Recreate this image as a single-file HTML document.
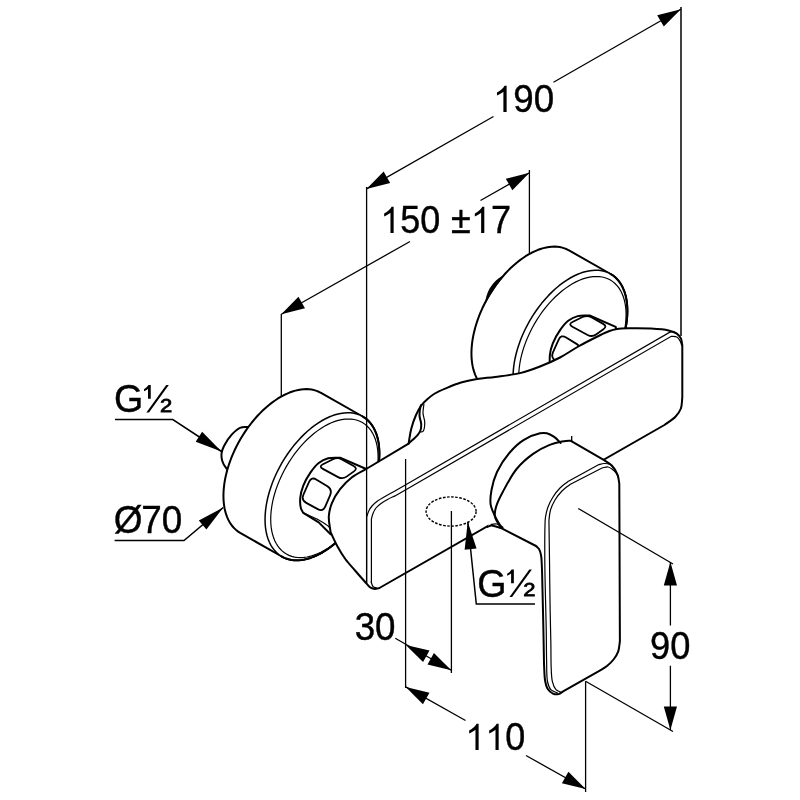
<!DOCTYPE html>
<html><head><meta charset="utf-8"><style>
html,body{margin:0;padding:0;background:#fff;width:800px;height:800px;overflow:hidden}
svg{display:block;will-change:transform}
text{font-family:"Liberation Sans",sans-serif;fill:#000;font-size:38px;stroke:#000;stroke-width:0.4}
.g1{fill:#000;stroke:none}
.d{stroke:#000;stroke-width:1.3;fill:none}
.o{stroke:#000;stroke-width:2.0;fill:#fff;stroke-linejoin:round;stroke-linecap:round}
.on{stroke:#000;stroke-width:2.0;fill:none;stroke-linejoin:round;stroke-linecap:round}
.i{stroke:#000;stroke-width:1.2;fill:none;stroke-linecap:round}
.w{fill:#fff;stroke:none}
.a{fill:#000;stroke:none}
.ds{stroke:#000;stroke-width:1.4;fill:none;stroke-dasharray:2.6 1.5}
</style></head><body>
<svg width="800" height="800" viewBox="0 0 800 800">
<path class="d" d="M281.3 314 L281.3 396"/>
<path class="d" d="M529.4 170 L529.4 253"/>
<path class="d" d="M681 7 L681 336" style="stroke-width:1.5"/>
<path class="o" d="M248 427 C245.33 427.27 242.53 426.76 240 427.8 C237.12 428.99 234.4 431.67 231.9 434.4 C229 437.56 225.74 442.48 224 446 C222.72 448.59 221.9 450.74 221.6 453.2 C221.3 455.64 221.48 458.27 222.2 460.7 C222.97 463.28 224.53 466.27 226.3 468.2 C227.88 469.93 230.1 470.73 232 472 L260 470 Z"/>
<path class="o" d="M240.18 532.9 L238.12 531.59 L236.18 530.08 L234.36 528.39 L232.66 526.52 L231.1 524.48 L229.67 522.27 L228.38 519.89 L227.24 517.36 L226.24 514.68 L225.39 511.86 L224.69 508.9 L224.15 505.82 L223.76 502.62 L223.52 499.31 L223.44 495.9 L223.52 492.4 L223.76 488.82 L224.15 485.17 L224.69 481.46 L225.39 477.69 L226.24 473.89 L227.24 470.06 L228.38 466.2 L229.67 462.34 L231.1 458.48 L232.66 454.63 L234.36 450.8 L236.18 447.01 L238.12 443.26 L240.18 439.57 L242.35 435.93 L244.63 432.38 L247 428.9 L249.47 425.52 L252.02 422.24 L254.65 419.08 L257.35 416.03 L260.12 413.11 L262.94 410.33 L265.81 407.69 L268.72 405.2 L271.66 402.87 L274.63 400.71 L277.61 398.72 L280.6 396.9 L283.59 395.26 L286.57 393.81 L289.54 392.55 L292.48 391.48 L295.39 390.61 L298.26 389.93 L301.08 389.46 L303.85 389.18 L306.55 389.11 L309.18 389.24 L311.73 389.57 L314.2 390.11 L316.57 390.84 L318.85 391.77 L321.02 392.9 L362.62 416.5 L364.68 417.81 L366.62 419.32 L368.44 421.01 L370.14 422.88 L371.7 424.92 L373.13 427.13 L374.42 429.51 L375.56 432.04 L376.56 434.72 L377.41 437.54 L378.11 440.5 L378.65 443.58 L379.04 446.78 L379.28 450.09 L379.36 453.5 L379.28 457 L379.04 460.58 L378.65 464.23 L378.11 467.94 L377.41 471.71 L376.56 475.51 L375.56 479.34 L374.42 483.2 L373.13 487.06 L371.7 490.92 L370.14 494.77 L368.44 498.6 L366.62 502.39 L364.68 506.14 L362.62 509.83 L360.45 513.47 L358.17 517.02 L355.8 520.5 L353.33 523.88 L350.78 527.16 L348.15 530.32 L345.45 533.37 L342.68 536.29 L339.86 539.07 L336.99 541.71 L334.08 544.2 L331.14 546.53 L328.17 548.69 L325.19 550.68 L322.2 552.5 L319.21 554.14 L316.23 555.59 L313.26 556.85 L310.32 557.92 L307.41 558.79 L304.54 559.47 L301.72 559.94 L298.95 560.22 L296.25 560.29 L293.62 560.16 L291.07 559.83 L288.6 559.29 L286.23 558.56 L283.95 557.63 L281.78 556.5 Z"/>
<path class="o" d="M379.36 453.5 L379.24 457.89 L378.87 462.4 L378.26 467.01 L377.41 471.71 L376.32 476.47 L375.01 481.27 L373.46 486.09 L371.7 490.92 L369.72 495.73 L367.55 500.5 L365.17 505.21 L362.62 509.83 L359.89 514.36 L357 518.77 L353.96 523.04 L350.78 527.16 L347.48 531.1 L344.07 534.85 L340.57 538.39 L336.99 541.71 L333.35 544.79 L329.66 547.63 L325.94 550.2 L322.2 552.5 L318.46 554.52 L314.74 556.24 L311.05 557.67 L307.41 558.79 L303.83 559.6 L300.33 560.1 L296.92 560.29 L293.62 560.16 L290.44 559.71 L287.4 558.95 L284.51 557.88 L281.78 556.5 L279.23 554.83 L276.85 552.86 L274.68 550.61 L272.7 548.08 L270.94 545.29 L269.39 542.25 L268.08 538.96 L266.99 535.46 L266.14 531.74 L265.53 527.83 L265.16 523.75 L265.04 519.5 L265.16 515.11 L265.53 510.6 L266.14 505.99 L266.99 501.29 L268.08 496.53 L269.39 491.73 L270.94 486.91 L272.7 482.08 L274.68 477.27 L276.85 472.5 L279.23 467.79 L281.78 463.17 L284.51 458.64 L287.4 454.23 L290.44 449.96 L293.62 445.84 L296.92 441.9 L300.33 438.15 L303.83 434.61 L307.41 431.29 L311.05 428.21 L314.74 425.37 L318.46 422.8 L322.2 420.5 L325.94 418.48 L329.66 416.76 L333.35 415.33 L336.99 414.21 L340.57 413.4 L344.07 412.9 L347.48 412.71 L350.78 412.84 L353.96 413.29 L357 414.05 L359.89 415.12 L362.62 416.5 L365.17 418.17 L367.55 420.14 L369.72 422.39 L371.7 424.92 L373.46 427.71 L375.01 430.75 L376.32 434.04 L377.41 437.54 L378.26 441.26 L378.87 445.17 L379.24 449.25 L379.36 453.5 Z" style="stroke-width:1.5"/>
<path class="on" d="M362.62 416.5 L364.68 417.81 L366.62 419.32 L368.44 421.01 L370.14 422.88 L371.7 424.92 L373.13 427.13 L374.42 429.51 L375.56 432.04 L376.56 434.72 L377.41 437.54 L378.11 440.5 L378.65 443.58 L379.04 446.78 L379.28 450.09 L379.36 453.5 L379.28 457 L379.04 460.58 L378.65 464.23 L378.11 467.94 L377.41 471.71 L376.56 475.51 L375.56 479.34 L374.42 483.2 L373.13 487.06 L371.7 490.92 L370.14 494.77 L368.44 498.6 L366.62 502.39 L364.68 506.14 L362.62 509.83 L360.45 513.47 L358.17 517.02 L355.8 520.5 L353.33 523.88 L350.78 527.16 L348.15 530.32 L345.45 533.37 L342.68 536.29 L339.86 539.07 L336.99 541.71 L334.08 544.2 L331.14 546.53 L328.17 548.69 L325.19 550.68 L322.2 552.5 L319.21 554.14 L316.23 555.59 L313.26 556.85 L310.32 557.92 L307.41 558.79 L304.54 559.47 L301.72 559.94 L298.95 560.22 L296.25 560.29 L293.62 560.16 L291.07 559.83 L288.6 559.29 L286.23 558.56 L283.95 557.63 L281.78 556.5"/>
<path class="i" d="M378.09 457.3 L377.98 461.42 L377.63 465.66 L377.06 469.99 L376.26 474.4 L375.24 478.87 L374.01 483.39 L372.56 487.92 L370.9 492.45 L369.04 496.97 L367 501.45 L364.77 505.87 L362.37 510.22 L359.8 514.47 L357.09 518.62 L354.23 522.63 L351.25 526.49 L348.15 530.2 L344.95 533.72 L341.66 537.05 L338.3 540.16 L334.88 543.06 L331.41 545.72 L327.91 548.14 L324.4 550.3 L320.89 552.19 L317.39 553.82 L313.92 555.16 L310.5 556.21 L307.14 556.97 L303.85 557.44 L300.65 557.62 L297.55 557.49 L294.57 557.07 L291.71 556.36 L289 555.35 L286.43 554.06 L284.03 552.49 L281.8 550.64 L279.76 548.52 L277.9 546.15 L276.24 543.52 L274.79 540.67 L273.56 537.58 L272.54 534.29 L271.74 530.8 L271.17 527.13 L270.82 523.29 L270.71 519.3 L270.82 515.18 L271.17 510.94 L271.74 506.61 L272.54 502.2 L273.56 497.73 L274.79 493.21 L276.24 488.68 L277.9 484.15 L279.76 479.63 L281.8 475.15 L284.03 470.73 L286.43 466.38 L289 462.13 L291.71 457.98 L294.57 453.97 L297.55 450.11 L300.65 446.4 L303.85 442.88 L307.14 439.55 L310.5 436.44 L313.92 433.54 L317.39 430.88 L320.89 428.46 L324.4 426.3 L327.91 424.41 L331.41 422.78 L334.88 421.44 L338.3 420.39 L341.66 419.63 L344.95 419.16 L348.15 418.98 L351.25 419.11 L354.23 419.53 L357.09 420.24 L359.8 421.25 L362.37 422.54 L364.77 424.11 L367 425.96 L369.04 428.08 L370.9 430.45 L372.56 433.08 L374.01 435.93 L375.24 439.02 L376.26 442.31 L377.06 445.8 L377.63 449.47 L377.98 453.31 L378.09 457.3 Z"/>
<path class="o" d="M340.1 457.7 C336.13 457.9 331.85 457.35 328.2 458.3 C324.75 459.2 321.56 460.78 318.7 463 C315.57 465.42 312.89 469.01 310.4 472.6 C307.71 476.48 305 481.25 303.3 485.6 C301.75 489.56 300.67 493.61 300.3 497.5 C299.95 501.13 300.15 505.42 300.9 508.2 C301.43 510.15 302.5 511.33 303.3 512.9 L318.7 522.4 L330.6 534.3 L372 500 L366.2 469 Z"/>
<path class="i" d="M303.3 512.9 C308.43 515.27 314.12 517.43 318.7 520 C322.69 522.24 326.91 524.83 329.4 527.2 C331.1 528.81 331.8 530.4 333 532"/>
<path class="on" d="M322.9 468.88 Q318.5 466.5 322.97 464.26 L333.03 459.24 Q337.5 457 341.86 459.45 L353.64 466.05 Q358 468.5 353.92 471.39 L346.58 476.61 Q342.5 479.5 338.1 477.12 Z" style="stroke-width:1.8"/>
<path class="on" d="M309.05 481.98 Q311.5 476.5 316.6 479.66 L327.4 486.34 Q332.5 489.5 330.17 495.03 L325.33 506.47 Q323 512 317.73 509.13 L306.27 502.87 Q301 500 303.45 494.52 Z" style="stroke-width:1.8"/>
<path class="o" d="M488.18 390.4 L486.12 389.09 L484.18 387.58 L482.36 385.89 L480.66 384.02 L479.1 381.98 L477.67 379.77 L476.38 377.39 L475.24 374.86 L474.24 372.18 L473.39 369.36 L472.69 366.4 L472.15 363.32 L471.76 360.12 L471.52 356.81 L471.44 353.4 L471.52 349.9 L471.76 346.32 L472.15 342.67 L472.69 338.96 L473.39 335.19 L474.24 331.39 L475.24 327.56 L476.38 323.7 L477.67 319.84 L479.1 315.98 L480.66 312.13 L482.36 308.3 L484.18 304.51 L486.12 300.76 L488.18 297.07 L490.35 293.43 L492.63 289.88 L495 286.4 L497.47 283.02 L500.02 279.74 L502.65 276.58 L505.35 273.53 L508.12 270.61 L510.94 267.83 L513.81 265.19 L516.72 262.7 L519.66 260.37 L522.63 258.21 L525.61 256.22 L528.6 254.4 L531.59 252.76 L534.57 251.31 L537.54 250.05 L540.48 248.98 L543.39 248.11 L546.26 247.43 L549.08 246.96 L551.85 246.68 L554.55 246.61 L557.18 246.74 L559.73 247.07 L562.2 247.61 L564.57 248.34 L566.85 249.27 L569.02 250.4 L610.62 274 L612.68 275.31 L614.62 276.82 L616.44 278.51 L618.14 280.38 L619.7 282.42 L621.13 284.63 L622.42 287.01 L623.56 289.54 L624.56 292.22 L625.41 295.04 L626.11 298 L626.65 301.08 L627.04 304.28 L627.28 307.59 L627.36 311 L627.28 314.5 L627.04 318.08 L626.65 321.73 L626.11 325.44 L625.41 329.21 L624.56 333.01 L623.56 336.84 L622.42 340.7 L621.13 344.56 L619.7 348.42 L618.14 352.27 L616.44 356.1 L614.62 359.89 L612.68 363.64 L610.62 367.33 L608.45 370.97 L606.17 374.52 L603.8 378 L601.33 381.38 L598.78 384.66 L596.15 387.82 L593.45 390.87 L590.68 393.79 L587.86 396.57 L584.99 399.21 L582.08 401.7 L579.14 404.03 L576.17 406.19 L573.19 408.18 L570.2 410 L567.21 411.64 L564.23 413.09 L561.26 414.35 L558.32 415.42 L555.41 416.29 L552.54 416.97 L549.72 417.44 L546.95 417.72 L544.25 417.79 L541.62 417.66 L539.07 417.33 L536.6 416.79 L534.23 416.06 L531.95 415.13 L529.78 414 Z"/>
<path class="o" d="M627.36 311 L627.24 315.39 L626.87 319.9 L626.26 324.51 L625.41 329.21 L624.32 333.97 L623.01 338.77 L621.46 343.59 L619.7 348.42 L617.72 353.23 L615.55 358 L613.17 362.71 L610.62 367.33 L607.89 371.86 L605 376.27 L601.96 380.54 L598.78 384.66 L595.48 388.6 L592.07 392.35 L588.57 395.89 L584.99 399.21 L581.35 402.29 L577.66 405.13 L573.94 407.7 L570.2 410 L566.46 412.02 L562.74 413.74 L559.05 415.17 L555.41 416.29 L551.83 417.1 L548.33 417.6 L544.92 417.79 L541.62 417.66 L538.44 417.21 L535.4 416.45 L532.51 415.38 L529.78 414 L527.23 412.33 L524.85 410.36 L522.68 408.11 L520.7 405.58 L518.94 402.79 L517.39 399.75 L516.08 396.46 L514.99 392.96 L514.14 389.24 L513.53 385.33 L513.16 381.25 L513.04 377 L513.16 372.61 L513.53 368.1 L514.14 363.49 L514.99 358.79 L516.08 354.03 L517.39 349.23 L518.94 344.41 L520.7 339.58 L522.68 334.77 L524.85 330 L527.23 325.29 L529.78 320.67 L532.51 316.14 L535.4 311.73 L538.44 307.46 L541.62 303.34 L544.92 299.4 L548.33 295.65 L551.83 292.11 L555.41 288.79 L559.05 285.71 L562.74 282.87 L566.46 280.3 L570.2 278 L573.94 275.98 L577.66 274.26 L581.35 272.83 L584.99 271.71 L588.57 270.9 L592.07 270.4 L595.48 270.21 L598.78 270.34 L601.96 270.79 L605 271.55 L607.89 272.62 L610.62 274 L613.17 275.67 L615.55 277.64 L617.72 279.89 L619.7 282.42 L621.46 285.21 L623.01 288.25 L624.32 291.54 L625.41 295.04 L626.26 298.76 L626.87 302.67 L627.24 306.75 L627.36 311 Z" style="stroke-width:1.5"/>
<path class="on" d="M610.62 274 L612.68 275.31 L614.62 276.82 L616.44 278.51 L618.14 280.38 L619.7 282.42 L621.13 284.63 L622.42 287.01 L623.56 289.54 L624.56 292.22 L625.41 295.04 L626.11 298 L626.65 301.08 L627.04 304.28 L627.28 307.59 L627.36 311 L627.28 314.5 L627.04 318.08 L626.65 321.73 L626.11 325.44 L625.41 329.21 L624.56 333.01 L623.56 336.84 L622.42 340.7 L621.13 344.56 L619.7 348.42 L618.14 352.27 L616.44 356.1 L614.62 359.89 L612.68 363.64 L610.62 367.33 L608.45 370.97 L606.17 374.52 L603.8 378 L601.33 381.38 L598.78 384.66 L596.15 387.82 L593.45 390.87 L590.68 393.79 L587.86 396.57 L584.99 399.21 L582.08 401.7 L579.14 404.03 L576.17 406.19 L573.19 408.18 L570.2 410 L567.21 411.64 L564.23 413.09 L561.26 414.35 L558.32 415.42 L555.41 416.29 L552.54 416.97 L549.72 417.44 L546.95 417.72 L544.25 417.79 L541.62 417.66 L539.07 417.33 L536.6 416.79 L534.23 416.06 L531.95 415.13 L529.78 414"/>
<path class="i" d="M626.09 314.8 L625.98 318.92 L625.63 323.16 L625.06 327.49 L624.26 331.9 L623.24 336.37 L622.01 340.89 L620.56 345.42 L618.9 349.95 L617.04 354.47 L615 358.95 L612.77 363.37 L610.37 367.72 L607.8 371.97 L605.09 376.12 L602.23 380.13 L599.25 383.99 L596.15 387.7 L592.95 391.22 L589.66 394.55 L586.3 397.66 L582.88 400.56 L579.41 403.22 L575.91 405.64 L572.4 407.8 L568.89 409.69 L565.39 411.32 L561.92 412.66 L558.5 413.71 L555.14 414.47 L551.85 414.94 L548.65 415.12 L545.55 414.99 L542.57 414.57 L539.71 413.86 L537 412.85 L534.43 411.56 L532.03 409.99 L529.8 408.14 L527.76 406.02 L525.9 403.65 L524.24 401.02 L522.79 398.17 L521.56 395.08 L520.54 391.79 L519.74 388.3 L519.17 384.63 L518.82 380.79 L518.71 376.8 L518.82 372.68 L519.17 368.44 L519.74 364.11 L520.54 359.7 L521.56 355.23 L522.79 350.71 L524.24 346.18 L525.9 341.65 L527.76 337.13 L529.8 332.65 L532.03 328.23 L534.43 323.88 L537 319.63 L539.71 315.48 L542.57 311.47 L545.55 307.61 L548.65 303.9 L551.85 300.38 L555.14 297.05 L558.5 293.94 L561.92 291.04 L565.39 288.38 L568.89 285.96 L572.4 283.8 L575.91 281.91 L579.41 280.28 L582.88 278.94 L586.3 277.89 L589.66 277.13 L592.95 276.66 L596.15 276.48 L599.25 276.61 L602.23 277.03 L605.09 277.74 L607.8 278.75 L610.37 280.04 L612.77 281.61 L615 283.46 L617.04 285.58 L618.9 287.95 L620.56 290.58 L622.01 293.43 L623.24 296.52 L624.26 299.81 L625.06 303.3 L625.63 306.97 L625.98 310.81 L626.09 314.8 Z"/>
<path class="o" d="M589.6 315.5 C585.63 315.7 581.35 315.15 577.7 316.1 C574.25 317 571.06 318.58 568.2 320.8 C565.07 323.22 562.39 326.81 559.9 330.4 C557.21 334.28 554.5 339.05 552.8 343.4 C551.25 347.36 550.17 351.41 549.8 355.3 C549.45 358.93 549.65 363.22 550.4 366 C550.93 367.95 552 369.13 552.8 370.7 L568.2 380.2 L580.1 392.1 L621.5 357.8 L615.7 326.8 Z"/>
<path class="i" d="M552.8 370.7 C557.93 373.07 563.62 375.23 568.2 377.8 C572.19 380.04 576.41 382.63 578.9 385 C580.6 386.61 581.3 388.2 582.5 389.8"/>
<path class="on" d="M572.4 326.68 Q568 324.3 572.47 322.06 L582.53 317.04 Q587 314.8 591.36 317.25 L603.14 323.85 Q607.5 326.3 603.42 329.19 L596.08 334.41 Q592 337.3 587.6 334.92 Z" style="stroke-width:1.8"/>
<path class="on" d="M558.55 339.78 Q561 334.3 566.1 337.46 L576.9 344.14 Q582 347.3 579.67 352.83 L574.83 364.27 Q572.5 369.8 567.23 366.93 L555.77 360.67 Q550.5 357.8 552.95 352.32 Z" style="stroke-width:1.8"/>
<path class="a" d="M485.46 302.01 L485.53 300.51 L485.76 299.09 L486.06 297.69 L486.42 296.32 L486.83 294.98 L487.29 293.65 L487.8 292.35 L488.36 291.07 L488.97 289.82 L489.62 288.61 L490.33 287.42 L491.08 286.27 L491.88 285.15 L492.73 284.06 L493.62 283.02 L494.55 282.01 L495.53 281.04 L496.55 280.11 L497.6 279.22 L498.69 278.37 L499.82 277.57 L500.98 276.81 L502.2 276.11 L503.54 275.55 L504.15 276.07 L503.29 277.05 L502.45 278.05 L501.62 279.05 L500.79 280.07 L499.97 281.09 L499.16 282.13 L498.35 283.18 L497.56 284.24 L496.77 285.31 L495.99 286.39 L495.22 287.48 L494.47 288.58 L493.72 289.69 L492.98 290.8 L492.25 291.93 L491.53 293.06 L490.82 294.2 L490.12 295.35 L489.44 296.51 L488.76 297.67 L488.09 298.84 L487.44 300.01 L486.8 301.19 L486.17 302.38 Z"/>
<path class="o" d="M366.2 469 L408.6 443.6 L408.6 443.6 C409.47 438.73 409.97 433.77 411.2 429 C412.43 424.24 414.16 419.14 416 415 C417.57 411.45 419.27 408.2 421.25 405.5 C422.99 403.14 424.89 401.41 427 399.5 C429.24 397.48 431.49 395.54 434.4 393.75 C437.94 391.57 442.65 389.65 447 387.8 C451.51 385.89 456.12 383.95 461 382.5 C466.1 380.99 471.49 379.92 477 379 C482.8 378.03 488.52 377.77 495 376.9 C502.66 375.87 512.2 374.96 520 373.1 C527.11 371.4 533.4 369.07 540 366.5 C546.74 363.88 553.54 360.88 560 357.5 C566.45 354.13 572.45 349.78 578.75 346.25 C584.95 342.78 592.02 339.2 597.5 336.5 C601.7 334.43 605.24 332.54 608.75 331.25 C611.66 330.18 613.91 329.5 617 329 C620.81 328.38 625.17 328.39 630 328.3 C636.08 328.18 643.98 328.2 650.6 328.6 C656.78 328.97 663.72 329.37 668.5 330.5 C671.85 331.29 674.66 332.1 676.8 333.6 C678.61 334.87 679.98 336.52 680.9 338.4 C681.87 340.39 681.83 343 682.3 345.3 L682.3 345.3 L682.3 397.5 L682.3 397.5 C681.83 401.17 682.12 405.22 680.9 408.5 C679.74 411.61 677.83 414.23 675.4 416.8 C672.55 419.81 668.07 422.27 664.4 425 L664.4 425 L379.4 588 L379.4 588 C377.93 588.3 376.46 588.96 375 588.9 C373.53 588.84 371.97 588.41 370.6 587.6 C369.02 586.66 367.7 584.7 366.25 583.25 L366.25 583.25 C362.5 579 358.59 574.66 355 570.5 C351.62 566.59 348.23 563.02 345.3 559 C342.4 555.02 339.91 550.87 337.5 546.5 C335 541.98 332.9 537.03 330.6 532.3 L330.6 532.3 C330 527.03 328.52 521.5 328.8 516.5 C329.06 511.91 330.09 507.72 331.8 503.4 C333.69 498.62 336.76 493.53 340.1 489.2 C343.48 484.82 347.62 480.68 352 477.3 C356.33 473.96 361.47 471.77 366.2 469 Z"/>
<path class="i" d="M366.6 583 L366.6 517 L366.6 517 C367.33 515 367.88 512.86 368.8 511 C369.69 509.21 370.66 507.58 372 506 C373.5 504.23 375.44 502.53 377.5 501 C379.73 499.34 382.34 498.04 385 496.5 C387.97 494.78 391.33 492.97 394.5 491.2 L394.5 491.2 L669.9 332.2 L669.9 332.2 C671.27 332.07 672.78 331.53 674 331.8 C675.12 332.05 676 333 677 333.6"/>
<path class="i" d="M376.75 588 C375.58 587.58 374.15 587.57 373.25 586.75 C372.23 585.82 371.92 583.85 371.25 582.4 L371.4 582.4 L371.4 519 L371.4 519 C371.93 517.17 372.26 515.29 373 513.5 C373.77 511.62 374.7 509.64 376 508 C377.35 506.3 379.16 504.88 381 503.5 C382.96 502.03 385.22 500.74 387.5 499.5 C389.88 498.2 392.5 497.1 395 495.9 L395 495.9 L671.3 336.3 L671.3 336.3 C673.13 336.53 675.31 336.18 676.8 337 C678.26 337.8 679.39 339.64 680.2 341.1 C680.94 342.43 681.13 343.9 681.6 345.3"/>
<path class="on" d="M408.6 443.6 C411.65 440.7 415.72 437.43 417.75 434.9 C419.05 433.28 419.81 432.15 420.4 430.5 C421.04 428.69 421.31 426.61 421.25 424.4 C421.17 421.73 419.64 418.54 419.5 415.6 C419.36 412.7 419.91 408.72 420.4 406.9 C420.64 406.01 420.97 405.63 421.25 405"/>
<path class="i" d="M420.4 432 C421.27 431.8 422.33 432.09 423 431.4 C424.23 430.13 424.73 425.6 424.75 422.6 C424.78 419.47 423.12 416.13 423 413 C422.88 410.02 423.6 407.17 423.9 404.25"/>
<path class="w" d="M490.6 504.4 C490.9 499.6 490.59 495.01 491.5 490 C492.54 484.28 494.23 477.93 497 472 C500.09 465.41 505.03 458.01 509.75 452.5 C513.96 447.58 518.4 443.32 523.5 440.1 C528.51 436.94 535.61 434.13 540 433.25 C542.73 432.71 544.66 432.72 546.9 433.25 C549.27 433.81 551.6 435.2 553.8 436.7 C556.21 438.34 558.37 440.83 560.65 442.9 L560.65 442.9 L573 442.2 L573 442.2 L604.1 460.1 L604.1 460.1 C606.73 461.98 609.78 463.38 612 465.75 C614.32 468.22 616.38 471.63 617.6 474.75 C618.73 477.65 618.73 480.75 619.3 483.75 L619.3 483.75 L619.9 641.25 L619.9 641.25 C619.35 644.63 619.34 648.32 618.25 651.4 C617.23 654.29 615.59 656.84 613.75 659.25 C611.86 661.72 609.54 663.98 607 666 C604.32 668.13 601 669.73 598 671.6 L598 671.6 L563.1 691.3 L563.1 691.3 C561.6 692.23 560.25 693.71 558.6 694.1 C556.9 694.51 554.75 694.37 553 693.6 C550.97 692.71 548.71 690.6 547.4 688.5 C546.03 686.31 545.66 683.76 545.1 680.6 C544.3 676.07 544.37 669.37 544 663.75 L544 663.75 C543.8 652.5 543.64 641.73 543.4 630 C543.14 617.23 542.8 601.77 542.5 590 C542.26 580.69 542.15 571.45 541.8 565 C541.58 560.91 541.59 557.88 541 555 C540.53 552.71 539.97 550.57 539 549 C538.2 547.71 537 547 536 546 L536 546 L501.25 528.1 L501.25 528.1 C499.17 527.48 496.83 526.68 495 526.25 C493.6 525.92 492.49 525.5 491.25 525.6 C489.99 525.7 488.75 526.47 487.5 526.9 L487.5 526.9 L489.5 522 L490.6 504.4 Z"/>
<path class="on" d="M502.5 527.5 C501.67 526.67 500.85 526.09 500 525 C498.78 523.44 497.39 520.91 496.25 518.75 C495.09 516.55 494.03 514.26 493.1 511.9 C492.14 509.48 490.98 507.35 490.6 504.4 C490.08 500.42 490.59 495.01 491.5 490 C492.54 484.28 494.23 477.93 497 472 C500.09 465.41 505.03 458.01 509.75 452.5 C513.96 447.58 518.4 443.32 523.5 440.1 C528.51 436.94 535.61 434.13 540 433.25 C542.73 432.71 544.66 432.72 546.9 433.25 C549.27 433.81 551.6 435.2 553.8 436.7 C556.21 438.34 558.37 440.83 560.65 442.9"/>
<path class="on" d="M500 525.6 C498.97 524.15 497.75 522.75 496.9 521.25 C496.1 519.84 495.32 518.44 495 516.9 C494.67 515.32 494.77 513.72 495 511.9 C495.28 509.64 495.92 507.14 496.9 504.4 C498.18 500.83 500.06 497.06 502.5 492.5 C506.02 485.91 511.17 475.65 516.6 469 C521.5 463 527.33 458.01 533.1 453.9 C538.39 450.13 544.42 447.01 549.65 444.9 C553.96 443.16 558.26 442.17 562 441.5 C565.01 440.96 568.33 440.41 570.3 440.8 C571.49 441.04 572.1 441.73 573 442.2 L573 442.2 L604.1 460.1 L604.1 460.1 C606.73 461.98 609.78 463.38 612 465.75 C614.32 468.22 616.38 471.63 617.6 474.75 C618.73 477.65 618.73 480.75 619.3 483.75 L619.3 483.75 L619.9 641.25 L619.9 641.25 C619.35 644.63 619.34 648.32 618.25 651.4 C617.23 654.29 615.59 656.84 613.75 659.25 C611.86 661.72 609.54 663.98 607 666 C604.32 668.13 601 669.73 598 671.6 L598 671.6 L563.1 691.3 L563.1 691.3 C561.6 692.23 560.25 693.71 558.6 694.1 C556.9 694.51 554.75 694.37 553 693.6 C550.97 692.71 548.71 690.6 547.4 688.5 C546.03 686.31 545.66 683.76 545.1 680.6 C544.3 676.07 544.37 669.37 544 663.75 L544 663.75 C543.8 652.5 543.64 641.73 543.4 630 C543.14 617.23 542.8 601.77 542.5 590 C542.26 580.69 542.15 571.45 541.8 565 C541.58 560.91 541.59 557.88 541 555 C540.53 552.71 539.97 550.57 539 549 C538.2 547.71 537 547 536 546 L536 546 L501.25 528.1 L501.25 528.1 C499.17 527.48 496.83 526.68 495 526.25 C493.6 525.92 492.49 525.5 491.25 525.6 C489.99 525.7 488.75 526.47 487.5 526.9"/>
<path class="i" d="M491.25 524.4 C493.13 524.27 495.36 523.56 496.9 524 C498.17 524.36 498.97 525.5 500 526.25"/>
<path class="i" d="M557.5 693 C555.25 691.87 552.39 691.37 550.75 689.6 C549.04 687.76 548.33 685.27 547.6 682 C546.41 676.65 546.83 667.9 546.6 660 C546.34 650.78 546.44 640.72 546.25 630 C546.03 617.62 545.55 602.38 545.3 590 C545.08 579.28 544.86 570.39 544.8 560 C544.74 548.78 544.74 532.54 545 525 C545.12 521.39 545.07 519.79 545.5 517 C545.99 513.83 546.79 510.27 548 507 C549.26 503.6 551.01 500.15 553 497 C555.01 493.82 557.43 490.63 560 488 C562.45 485.5 565.33 483.67 568 481.5 L568 481.5 L598 465 L598 465 C600 464.5 601.99 463.58 604 463.5 C605.99 463.42 608.23 463.54 610 464.5 C611.95 465.56 613.65 468.03 615 470 C616.28 471.87 617 474 618 476"/>
<path class="i" d="M561 692.2 C559.33 691.33 557.35 691.03 556 689.6 C554.32 687.83 553.3 685.49 552.4 681.7 C550.43 673.38 551.2 653.76 550.8 640 C550.41 626.53 550.22 613.33 550 600 C549.78 586.67 549.67 572.89 549.5 560 C549.34 547.94 549.05 531.4 549 525 C548.98 522.58 548.85 521.95 549 520 C549.21 517.23 549.54 513.27 550.5 510 C551.5 506.6 553.11 503.14 555 500 C556.93 496.8 559.43 493.63 562 491 C564.45 488.5 567.33 486.67 570 484.5 L570 484.5 L602 468 L602 468 C604 467.67 606.24 466.74 608 467 C609.51 467.23 610.74 468.09 612 469 C613.42 470.02 614.91 471.49 616 473 C617.08 474.5 617.67 476.33 618.5 478"/>
<path class="d" d="M571.7 436 L571.7 441"/>
<ellipse class="ds" cx="451.1" cy="511.5" rx="25" ry="14.6"/>
<path class="d" d="M366.6 187 L366.6 583"/>
<path class="d" d="M405.6 459 L405.6 688"/>
<path class="d" d="M451.4 511 L451.4 673"/>
<path class="d" d="M585.6 681.2 L585.6 792"/>
<path class="d" d="M366.5 188.9 L493.5 116.5 M553.5 82.2 L680.9 9.2"/>
<path class="a" d="M366.5 188.9 L383.63 171.51 L390.18 182.97 Z"/>
<path class="a" d="M680.9 9.2 L663.77 26.59 L657.22 15.13 Z"/>
<path class="d" d="M281.3 314.2 L410 241.5 M480.5 200.5 L529.5 172.8"/>
<path class="a" d="M281.3 314.2 L298.45 296.83 L304.99 308.3 Z"/>
<path class="a" d="M529.5 172.8 L512.35 190.17 L505.81 178.7 Z"/>
<path class="d" d="M395.25 638.3 L451.25 670.25"/>
<path class="a" d="M405.75 644.9 L429.49 650.57 L423.07 662.1 Z"/>
<path class="a" d="M451.25 670.25 L427.51 664.58 L433.93 653.05 Z"/>
<path class="d" d="M405.75 686.9 L465.5 720.5 M526 755.5 L585.6 789"/>
<path class="a" d="M405.75 686.9 L429.44 692.76 L422.93 704.24 Z"/>
<path class="a" d="M585.6 789 L561.91 783.14 L568.42 771.66 Z"/>
<path class="d" d="M670.4 562 L670.4 625.6 M670.4 665.8 L670.4 730"/>
<path class="a" d="M670.4 562 L677 585.5 L663.8 585.5 Z"/>
<path class="a" d="M670.4 730 L663.8 706.5 L677 706.5 Z"/>
<path class="d" d="M578.25 508.5 L673 564 M585.6 681.2 L673 731.5"/>
<path class="d" d="M115 419.6 L172.8 419.6 L221.5 451.5" style="stroke-width:1.5"/>
<path class="a" d="M221.5 451.5 L195.68 441.64 L202.15 431.77 Z"/>
<path class="d" d="M114.6 540.6 L184 540.6 L223.25 507.5" style="stroke-width:1.5"/>
<path class="a" d="M223.25 507.5 L206.41 529.42 L198.81 520.4 Z"/>
<path class="d" d="M535 604 L476.3 604 L467.75 521.75" style="stroke-width:1.5"/>
<path class="a" d="M467.75 521.75 L476.56 548.48 L464.63 549.72 Z"/>
<g transform="translate(492.94,112) scale(0.966,1)"><path class="g1" transform="translate(0,0)" d="M14.16 0 L10.82 0 L10.82 -20.37 Q9.61 -19.27 7.66 -18.16 Q5.72 -17.06 4.16 -16.52 L4.16 -19.6 Q6.96 -20.86 9.05 -22.66 Q11.15 -24.45 12.02 -26.14 L14.16 -26.14 Z"/><text x="21.13" y="0">90</text></g>
<g transform="translate(380.21,233) scale(0.948,1)"><path class="g1" transform="translate(0,0)" d="M14.16 0 L10.82 0 L10.82 -20.37 Q9.61 -19.27 7.66 -18.16 Q5.72 -17.06 4.16 -16.52 L4.16 -19.6 Q6.96 -20.86 9.05 -22.66 Q11.15 -24.45 12.02 -26.14 L14.16 -26.14 Z"/><text x="21.13" y="0">50</text></g>
<g transform="translate(451.05,233) scale(0.95,1)"><text x="0" y="0">±</text><path class="g1" transform="translate(20.85,0)" d="M14.16 0 L10.82 0 L10.82 -20.37 Q9.61 -19.27 7.66 -18.16 Q5.72 -17.06 4.16 -16.52 L4.16 -19.6 Q6.96 -20.86 9.05 -22.66 Q11.15 -24.45 12.02 -26.14 L14.16 -26.14 Z"/><text x="41.98" y="0">7</text></g>
<g transform="translate(0,0)">
<text transform="translate(114.1,412) scale(0.99,1)">G</text>
<path class="a" d="M150.75 398.75 L148 398.75 L148 388.9 Q146.3 390.4 144 391.2 L144 389.3 Q146.9 387.6 148.5 385 L150.75 385 Z"/>
<path class="a" d="M146.4 412.5 L149 412.5 L168.8 385 L166.2 385 Z"/>
<text transform="translate(160.1,411.75) scale(1.23,1)" style="font-size:17.9px;stroke:#000;stroke-width:0.75">2</text>
</g>
<g transform="translate(113.75,533) scale(0.973,1)"><text x="0" y="0">Ø</text></g>
<g transform="translate(141.26,533) scale(0.969,1)"><text x="0" y="0">70</text></g>
<g transform="translate(354.67,639.5) scale(0.967,1)"><text x="0" y="0">30</text></g>
<g transform="translate(465.21,750) scale(0.948,1)"><path class="g1" transform="translate(0,0)" d="M14.16 0 L10.82 0 L10.82 -20.37 Q9.61 -19.27 7.66 -18.16 Q5.72 -17.06 4.16 -16.52 L4.16 -19.6 Q6.96 -20.86 9.05 -22.66 Q11.15 -24.45 12.02 -26.14 L14.16 -26.14 Z"/><path class="g1" transform="translate(21.13,0)" d="M14.16 0 L10.82 0 L10.82 -20.37 Q9.61 -19.27 7.66 -18.16 Q5.72 -17.06 4.16 -16.52 L4.16 -19.6 Q6.96 -20.86 9.05 -22.66 Q11.15 -24.45 12.02 -26.14 L14.16 -26.14 Z"/><text x="42.26" y="0">0</text></g>
<g transform="translate(649.99,658.5) scale(0.954,1)"><text x="0" y="0">90</text></g>
<g transform="translate(363.1,184.5)">
<text transform="translate(114.1,412) scale(0.99,1)">G</text>
<path class="a" d="M150.75 398.75 L148 398.75 L148 388.9 Q146.3 390.4 144 391.2 L144 389.3 Q146.9 387.6 148.5 385 L150.75 385 Z"/>
<path class="a" d="M146.4 412.5 L149 412.5 L168.8 385 L166.2 385 Z"/>
<text transform="translate(160.1,411.75) scale(1.23,1)" style="font-size:17.9px;stroke:#000;stroke-width:0.75">2</text>
</g>
</svg>
</body></html>
